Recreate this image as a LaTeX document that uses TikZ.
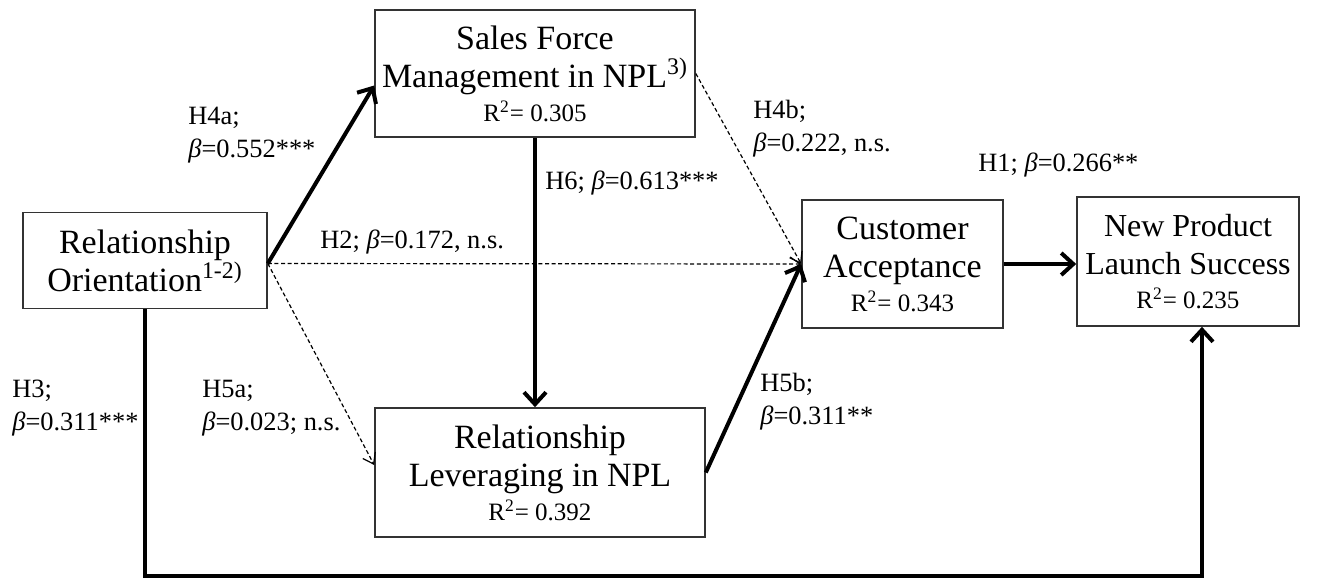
\documentclass[tikz,border=0pt]{standalone}
\usepackage{fontspec}
\setmainfont{Liberation Serif}
\usetikzlibrary{arrows.meta}
\begin{document}
\begin{tikzpicture}[x=0.5pt,y=-0.5pt,
  box/.style={draw=black!80, line width=0.8pt, rectangle, align=center, inner sep=0pt,
    font=\fontsize{17}{19}\selectfont},
  lbl/.style={align=left, inner sep=0pt, anchor=west, font=\fontsize{13.2}{16.5}\selectfont},
  strong/.style={line width=2pt, -{Straight Barb[length=6pt,width=11pt]}},
  weak/.style={line width=0.6pt, dash pattern=on 2pt off 1.3pt, -{Straight Barb[length=5pt,width=7pt]}}
]
\useasboundingbox (0,0) rectangle (1329,580);
\newcommand{\rsqline}[1]{{\fontsize{12.5}{14}\selectfont R\textsuperscript{2}= #1}}
% boxes
\node[box, minimum width=122pt, minimum height=48pt] (ro) at (145,260.5)
  {Relationship\\Orientation\textsuperscript{1-2)}};
\node[box, minimum width=160pt, minimum height=63.5pt] (sf) at (535,73.5)
  {Sales Force\\Management in NPL\textsuperscript{3)}\\[-2pt]\rsqline{0.305}};
\node[box, minimum width=100.5pt, minimum height=64pt] (ca) at (902.5,264)
  {Customer\\Acceptance\\[-2pt]\rsqline{0.343}};
\node[box, minimum width=111pt, minimum height=64.5pt, font=\fontsize{16}{19}\selectfont] (np) at (1188,261.5)
  {New Product\\Launch Success\\[-2pt]\rsqline{0.235}};
\node[box, minimum width=165pt, minimum height=64.5pt] (rl) at (540,472.5)
  {Relationship\\Leveraging in NPL\\[-2pt]\rsqline{0.392}};
% connectors
\coordinate (roe) at ([yshift=-1.5pt]ro.east);
\draw[strong] (roe) -- ([yshift=-6pt]sf.west);
\draw[weak] (roe) -- (ca.west);
\draw[weak] (roe) -- ([yshift=3.75pt]rl.west);
\draw[weak] (sf.east) -- (ca.west);
\draw[strong] (sf.south) -- (sf.south |- rl.north);
\draw[strong] (rl.east) -- (ca.west);
\draw[strong] (ca.east) -- (ca.east -| np.west);
\coordinate (bc) at (1202,576);
\draw[strong, line join=miter] (ro.south) |- (bc) -- (bc |- np.south);
% labels
\node[lbl] (l4a) at (188,135) {H4a;\\\textit{β}=0.552***};
\node[lbl] (l4b) at (753,129) {H4b;\\\textit{β}=0.222, n.s.};
\node[lbl] (l6) at (545,183) {H6; \textit{β}=0.613***};
\node[lbl] (l1) at (978,165) {H1; \textit{β}=0.266**};
\node[lbl] (l2) at (320,242) {H2; \textit{β}=0.172, n.s.};
\node[lbl] (l3) at (12,408) {H3;\\\textit{β}=0.311***};
\node[lbl] (l5a) at (202,408) {H5a;\\\textit{β}=0.023; n.s.};
\node[lbl] (l5b) at (760,402) {H5b;\\\textit{β}=0.311**};
\end{tikzpicture}
\end{document}
